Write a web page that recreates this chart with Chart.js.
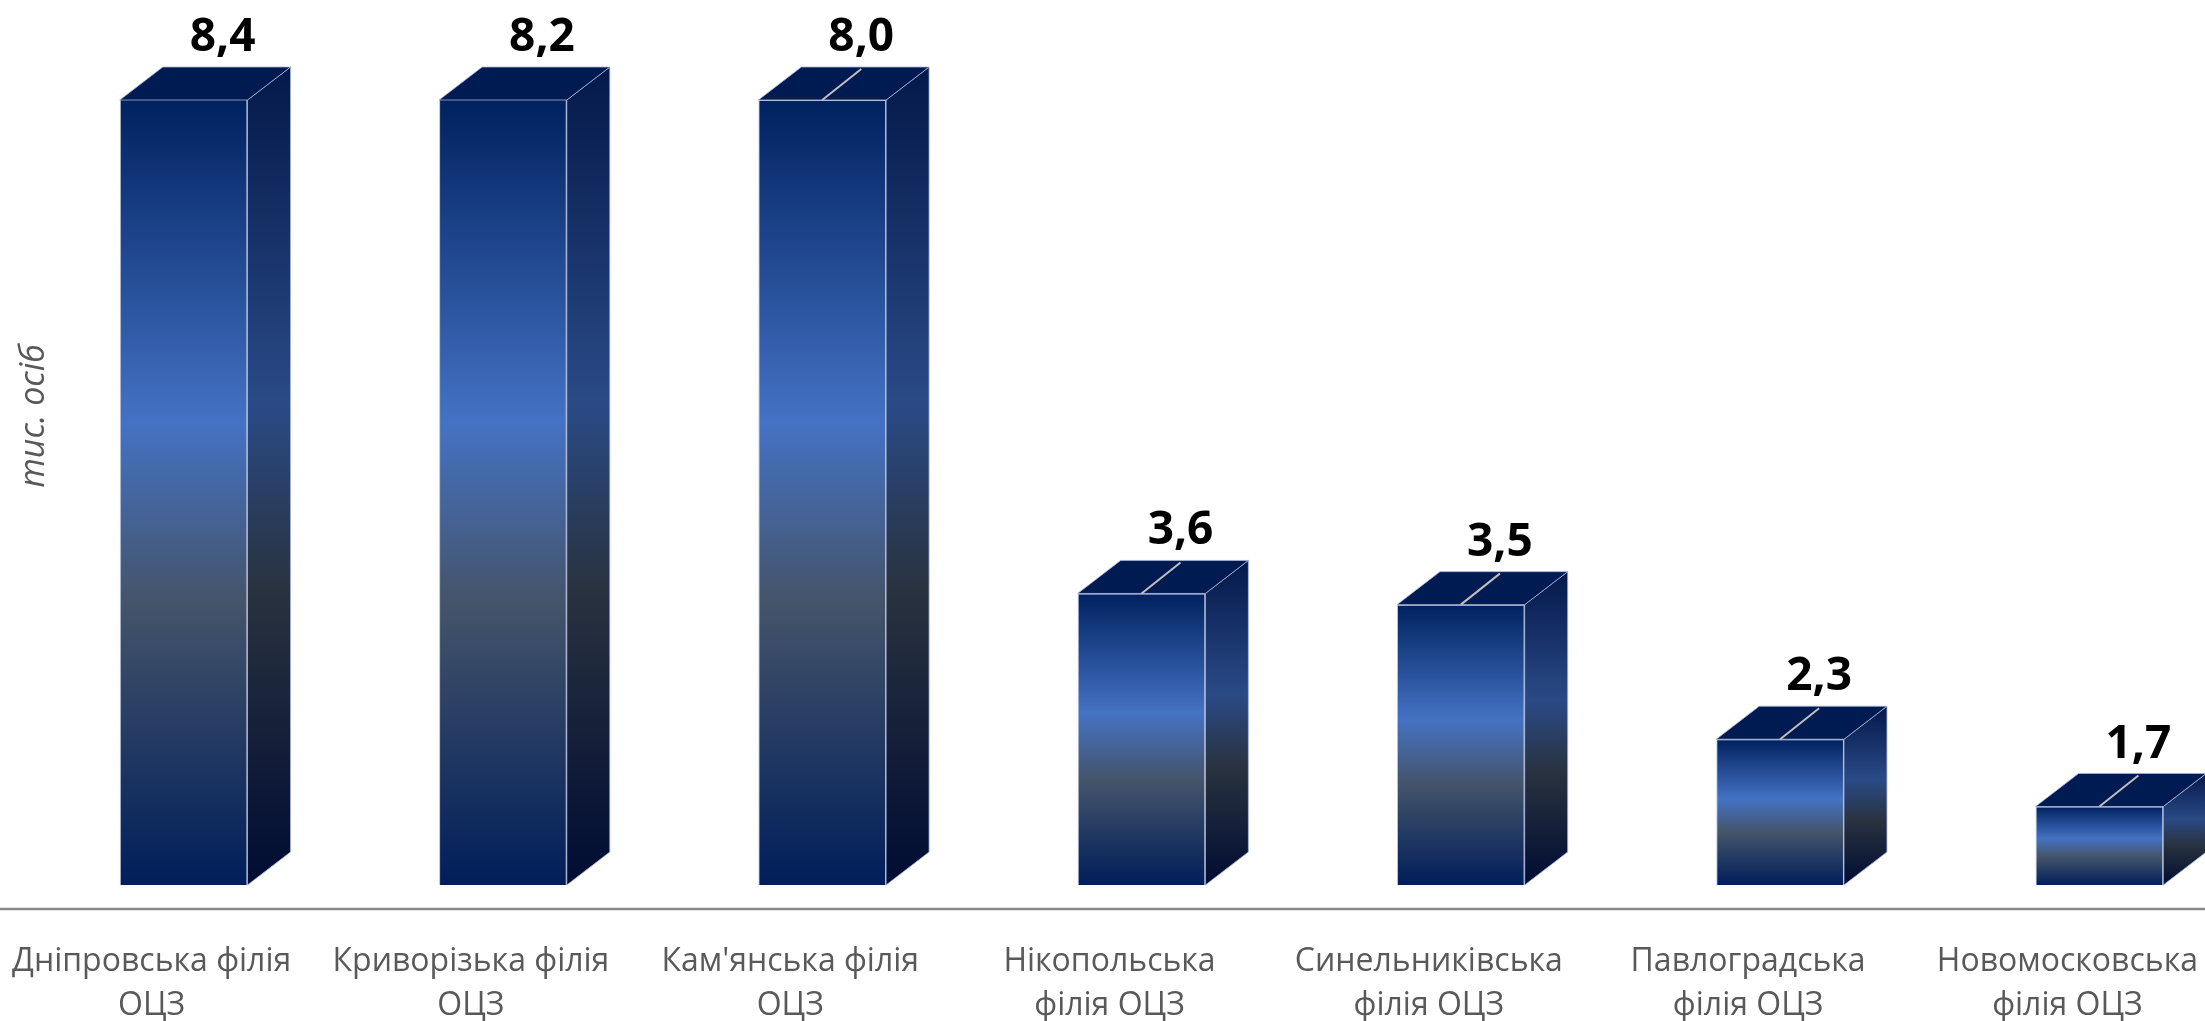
<!DOCTYPE html>
<html lang="uk">
<head>
    <meta charset="UTF-8">
    <title>Філії ОЦЗ</title>
    <script src="https://cdn.jsdelivr.net/npm/chart.js"></script>
    <style>
        html, body {
            margin: 0;
            padding: 0;
            overflow: hidden;
            background: #ffffff;
        }
        .chart-box {
            width: 2260px;
            height: 1021px;
        }
    </style>
</head>
<body>
    <div class="chart-box">
        <canvas id="branchChart"></canvas>
    </div>

    <script>
        // Data
        const categories = [
            ['Дніпровська філія', 'ОЦЗ'],
            ['Криворізька філія', 'ОЦЗ'],
            ["Кам'янська філія", 'ОЦЗ'],
            ['Нікопольська', 'філія ОЦЗ'],
            ['Синельниківська', 'філія ОЦЗ'],
            ['Павлоградська', 'філія ОЦЗ'],
            ['Новомосковська', 'філія ОЦЗ']
        ];
        const values = [8.4, 8.2, 8.0, 3.6, 3.5, 2.3, 1.7];
        const yTitle = 'тис. осіб';

        // axis as in the source: floor at 1, ceiling at 8 (taller bars are cut)
        const Y_MIN = 0.786;
        const Y_MAX = 8;
        const BAR_BASE = 1;

        // 3d look
        const DEPTH_X = 43;
        const DEPTH_Y = 33;
        const frontStops = [[0, '#00215f'], [0.41, '#4472c4'], [0.64, '#44546a'], [1, '#001e5a']];
        const sideStops = [[0, '#04184a'], [0.41, '#2a4a86'], [0.64, '#29323f'], [1, '#000c33']];
        const topColor = '#001a52';
        const edgeColor = 'rgba(165, 180, 215, 0.8)';

        function makeGradient(ctx, y0, y1, stops) {
            const g = ctx.createLinearGradient(0, y0, 0, y1);
            stops.forEach(s => g.addColorStop(s[0], s[1]));
            return g;
        }

        function fmt(v) {
            return v.toFixed(1).replace('.', ',');
        }

        const boxPlugin = {
            id: 'box3d',
            afterDatasetsDraw(chart) {
                const ctx = chart.ctx;
                const area = chart.chartArea;
                const meta = chart.getDatasetMeta(0);
                ctx.save();
                meta.data.forEach((bar, i) => {
                    const p = bar.getProps(['x', 'y', 'base', 'width'], true);
                    const left = p.x - p.width / 2;
                    const right = p.x + p.width / 2;
                    const top = Math.max(p.y, area.top);
                    const bottom = p.base;

                    // side face
                    ctx.beginPath();
                    ctx.moveTo(right, top);
                    ctx.lineTo(right + DEPTH_X, top - DEPTH_Y);
                    ctx.lineTo(right + DEPTH_X, bottom - DEPTH_Y);
                    ctx.lineTo(right, bottom);
                    ctx.closePath();
                    ctx.fillStyle = makeGradient(ctx, top - DEPTH_Y, bottom, sideStops);
                    ctx.fill();
                    ctx.strokeStyle = edgeColor;
                    ctx.lineWidth = 1;
                    ctx.stroke();

                    // top face
                    ctx.beginPath();
                    ctx.moveTo(left, top);
                    ctx.lineTo(left + DEPTH_X, top - DEPTH_Y);
                    ctx.lineTo(right + DEPTH_X, top - DEPTH_Y);
                    ctx.lineTo(right, top);
                    ctx.closePath();
                    ctx.fillStyle = topColor;
                    ctx.fill();
                    ctx.stroke();

                    // value label (+ leader line when the bar is not cut)
                    const lx = p.x + 39;
                    const backTop = top - DEPTH_Y;
                    if (values[i] <= Y_MAX) {
                        ctx.beginPath();
                        ctx.moveTo(p.x, top);
                        ctx.lineTo(lx, backTop + 2);
                        ctx.strokeStyle = '#bfbfbf';
                        ctx.lineWidth = 2;
                        ctx.stroke();
                    }
                    ctx.fillStyle = '#000000';
                    ctx.font = 'bold 46px "Open Sans", sans-serif';
                    ctx.textAlign = 'center';
                    ctx.textBaseline = 'alphabetic';
                    ctx.fillText(fmt(values[i]), lx, backTop - 16);
                });

                // axis line across the whole width
                ctx.beginPath();
                ctx.moveTo(0, area.bottom);
                ctx.lineTo(chart.width, area.bottom);
                ctx.strokeStyle = '#898989';
                ctx.lineWidth = 2.5;
                ctx.stroke();

                // y title
                ctx.translate(44, 416);
                ctx.rotate(-Math.PI / 2);
                ctx.fillStyle = '#595959';
                ctx.font = 'italic 34px "Open Sans", sans-serif';
                ctx.textAlign = 'center';
                ctx.textBaseline = 'alphabetic';
                ctx.fillText(yTitle, 0, 0);
                ctx.restore();
            }
        };

        const ctx = document.getElementById('branchChart').getContext('2d');
        const chart = new Chart(ctx, {
            type: 'bar',
            data: {
                labels: categories,
                datasets: [{
                    data: values,
                    base: BAR_BASE,
                    clip: 0,
                    backgroundColor: function(c) {
                        const ch = c.chart;
                        if (!ch.chartArea || c.type !== 'data') {
                            return '#1f3f8a';
                        }
                        const yScale = ch.scales.y;
                        const top = yScale.getPixelForValue(Math.min(c.parsed.y, Y_MAX));
                        const bottom = yScale.getPixelForValue(BAR_BASE);
                        return makeGradient(ch.ctx, top, bottom, frontStops);
                    },
                    borderColor: edgeColor,
                    borderWidth: 1,
                    categoryPercentage: 1.0,
                    barPercentage: 0.4
                }]
            },
            options: {
                responsive: true,
                maintainAspectRatio: false,
                animation: false,
                layout: {
                    padding: { left: 24, right: 0, top: 100, bottom: 0 }
                },
                plugins: {
                    legend: { display: false },
                    tooltip: { enabled: false }
                },
                scales: {
                    x: {
                        grid: { display: false, drawTicks: false },
                        border: { display: false },
                        ticks: {
                            color: '#595959',
                            padding: 30,
                            labelOffset: -32,
                            maxRotation: 0,
                            autoSkip: false,
                            font: { family: 'Open Sans', size: 32, lineHeight: 1.4 }
                        },
                        afterFit: function(scale) {
                            scale.height = 112;
                        }
                    },
                    y: {
                        display: false,
                        min: Y_MIN,
                        max: Y_MAX
                    }
                }
            },
            plugins: [boxPlugin]
        });
    </script>
</body>
</html>
